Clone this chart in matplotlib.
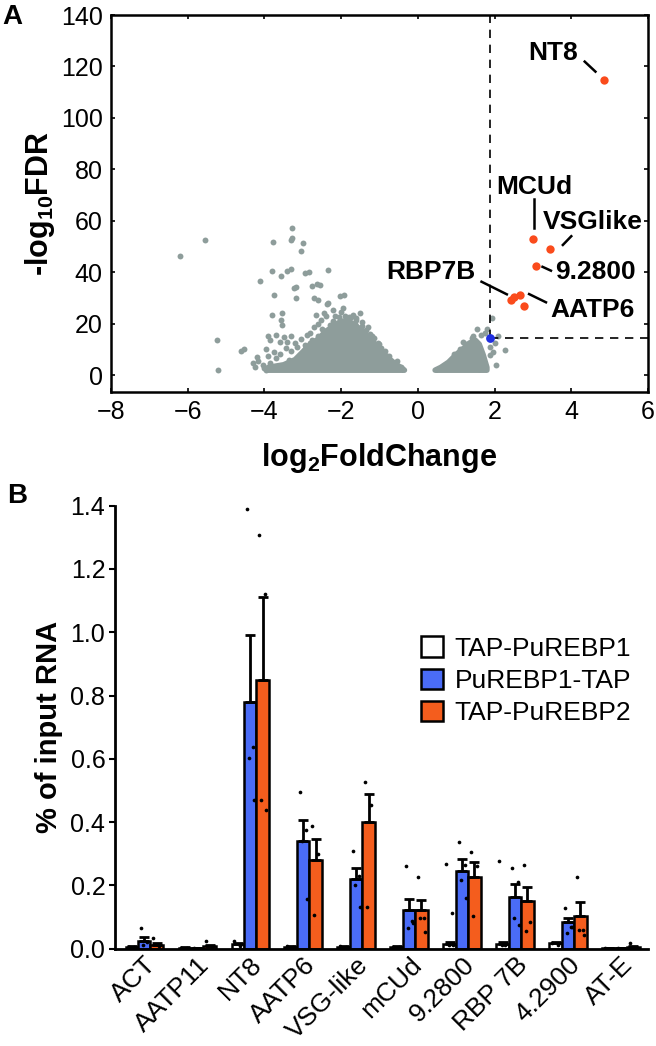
import numpy as np
import matplotlib.pyplot as plt
from matplotlib.patches import Patch

plt.rcParams['font.family'] = ['Liberation Sans', 'DejaVu Sans']
plt.rcParams['mathtext.fontset'] = 'custom'
plt.rcParams['mathtext.rm'] = 'Liberation Sans'
plt.rcParams['mathtext.bf'] = 'Liberation Sans:bold'

# ---- panel A: volcano ----
# dense cores of the two clouds (outline)
left_core_x = [-3.9, -3.9, -3.5, -3.2, -3.0, -2.8, -2.6, -2.4, -2.2, -2.0, -1.8, -1.6, -1.4,
               -1.2, -1.0, -0.8, -0.6, -0.4, -0.35]
left_core_y = [1.9, 3, 4, 6, 9, 12, 14, 17, 19, 21, 21, 19, 16.5, 13.5, 10, 7, 4.5, 2.5, 1.9]
right_core_x = [0.45, 0.6, 0.8, 1.0, 1.2, 1.35, 1.5, 1.6, 1.7, 1.8, 1.8]
right_core_y = [1.9, 3, 5, 8, 10.5, 12.5, 13.5, 12, 8, 3, 1.9]

# scattered grey genes outside the cores
grey_x = [-6.21, -5.55, -5.24, -5.20, -4.62, -4.52, -4.12, -4.20, -4.16, -4.05, -4.0, -3.95,
          -3.77, -3.80, -3.57, -3.41, -3.32, -3.74, -3.79, -3.53, -3.57, -3.53, -3.28, -3.31,
          -3.27, -3.0, -3.05, -2.93, -2.85, -3.17, -3.22, -3.17, -2.76, -2.62, -2.55, -2.70,
          -2.60, -2.35, -2.02, -1.92, -2.35, -2.37, -2.65, -2.45, -2.40, -2.52, -2.2, -2.0,
          -1.52, -3.9, -3.85, -3.7, -3.6, -3.5, -3.4, -3.3, -3.2, -3.05, -2.9, -3.95, -3.75,
          -3.6, -3.45, -3.3, -3.15, -2.95, -2.8, -2.7, -2.6, -4.3, -4.25, -3.85, -3.7, -3.55,
          -3.9, -2.15, -1.8, -1.7, -1.3, -1.15, -0.95, -0.8, -0.6, -0.45, -1.95, -1.6, -1.45,
          -2.9, -2.8, -2.6, -2.45, -2.3, -2.2, -2.05, -1.9, -1.75, -1.6, -1.45, -1.35, -1.2,
          -1.05, -0.85, -0.75, -0.55, -3.1, -2.95, -2.75, -2.5, -1.65, -1.25, -1.0, -3.35,
          1.94, 2.1, 2.27, 2.05, 1.55, 1.17, 1.88, 1.88, 1.75, 1.8, 1.65, 2.0, 1.95, 1.7, 1.6,
          1.3, 1.45, 1.1, 0.95, 1.4, 1.55, 1.25]
grey_y = [46.3, 52.5, 13.6, 1.9, 9.5, 10.2, 36.6, 7.2, 5.5, 3.8, 2.6, 2.0,
          51.6, 40.3, 38.7, 40.4, 41.2, 31.1, 23.3, 24.0, 21.4, 19.4, 57.2, 52.5,
          53.2, 51.3, 48.1, 39.8, 40.0, 34.3, 34.0, 29.8, 34.6, 35.3, 35.0, 30.0,
          29.0, 40.8, 30.9, 31.2, 28.2, 27.5, 23.5, 24.2, 23.0, 21.4, 25.2, 24.6,
          24.0, 15.0, 13.5, 15.5, 12.8, 14.8, 13.0, 15.2, 12.5, 14.0, 15.5, 10.0, 9.0,
          8.0, 10.5, 9.5, 11.0, 11.5, 16.5, 18.5, 20.0, 4.5, 3.0, 4.5, 6.5, 3.5,
          7.5, 23.0, 22.5, 23.5, 18.5, 14.5, 10.5, 7.5, 4.5, 3.0, 26.0, 22.0, 20.5,
          9.0, 12.5, 15.0, 17.0, 19.5, 21.0, 22.5, 23.0, 22.5, 21.5, 19.0, 17.5, 15.0,
          12.5, 9.5, 7.5, 5.5, 7.0, 10.0, 13.5, 18.0, 20.0, 16.0, 12.0, 6.0,
          22.0, 15.0, 9.7, 3.9, 18.0, 13.0, 7.8, 11.0, 16.5, 18.0, 15.5, 12.5, 9.0, 5.0, 2.5,
          11.0, 15.0, 10.0, 8.0, 14.5, 12.0, 12.0]

hit_x = [4.85, 3.01, 3.45, 3.09, 2.43, 2.51, 2.67, 2.76]
hit_y = [114.7, 52.9, 49.0, 42.5, 29.2, 30.5, 31.1, 26.8]
bait_x, bait_y = 1.88, 14.6

hit_labels = ['NT8', 'MCUd', 'VSGlike', '9.2800', 'RBP7B', 'AATP6']
label_x = [3.53, 3.04, 4.57, 4.63, 0.35, 4.55]
label_y = [125.4, 73.0, 59.6, 40.2, 40.2, 25.3]
leader_x0 = [4.35, 3.04, 4.00, 3.25, 1.66, 2.90]
leader_y0 = [121.9, 68.4, 54.0, 42.1, 36.3, 31.5]
leader_x1 = [4.63, 3.04, 3.78, 3.47, 2.32, 3.34]
leader_y1 = [118.0, 57.0, 50.6, 40.6, 31.4, 28.3]

# ---- panel B: bars ----
genes = ['ACT', 'AATP11', 'NT8', 'AATP6', 'VSG-like', 'mCUd', '9.2800', 'RBP 7B', '4.2900', 'AT-E']
series = ['TAP-PuREBP1', 'PuREBP1-TAP', 'TAP-PuREBP2']
white_mean = [0.005, 0.003, 0.014, 0.006, 0.006, 0.005, 0.014, 0.014, 0.016, 0.002]
blue_mean = [0.025, 0.003, 0.78, 0.34, 0.22, 0.123, 0.244, 0.163, 0.083, 0.002]
orange_mean = [0.012, 0.008, 0.85, 0.281, 0.40, 0.121, 0.227, 0.151, 0.103, 0.006]
white_err = [0.003, 0.001, 0.005, 0.003, 0.003, 0.002, 0.006, 0.006, 0.004, 0.001]
blue_err = [0.01, 0.0, 0.21, 0.065, 0.035, 0.035, 0.04, 0.04, 0.015, 0.0]
orange_err = [0.004, 0.003, 0.26, 0.065, 0.09, 0.033, 0.045, 0.045, 0.043, 0.002]

white_dots = [[0.004, 0.006], [0.002, 0.003], [0.024, 0.008], [0.008, 0.004], [0.008, 0.004],
              [0.006, 0.004], [0.267, 0.112, 0.012, 0.01], [0.278, 0.012, 0.01], [0.016, 0.01], [0.002]]
blue_dots = [[0.065, 0.02, 0.01], [0.003], [1.39, 0.637, 0.603, 0.471], [0.494, 0.374, 0.34, 0.155],
             [0.308, 0.229, 0.2, 0.131], [0.26, 0.087, 0.065, 0.08], [0.337, 0.265, 0.218, 0.16],
             [0.255, 0.21, 0.097, 0.073], [0.129, 0.067, 0.05, 0.067], [0.002]]
orange_dots = [[0.034, 0.008], [0.025, 0.004], [1.309, 1.12, 0.471, 0.437], [0.387, 0.30, 0.107],
               [0.526, 0.453, 0.131], [0.225, 0.095, 0.095, 0.052], [0.306, 0.26, 0.102],
               [0.265, 0.083, 0.055], [0.225, 0.06, 0.06, 0.044], [0.016, 0.003]]

grey = '#8e9d9b'
red = '#fa4b1c'
bar_colors = ['white', '#4a6cf7', '#f45d1d']

fig = plt.figure(figsize=(6.56, 10.46), dpi=100)

# panel A
ax = fig.add_axes([0.1692, 0.6252, 0.8186, 0.3604])
ax.fill(left_core_x, left_core_y, color=grey, lw=4, joinstyle='round', zorder=1)
ax.fill(right_core_x, right_core_y, color=grey, lw=4, joinstyle='round', zorder=1)
ax.scatter(grey_x, grey_y, s=18, color=grey, lw=0, zorder=2)
ax.plot([bait_x, bait_x], [bait_y, 140], color='black', lw=1.2, linestyle=(0, (5, 4)), zorder=3)
ax.plot([bait_x, 6], [bait_y, bait_y], color='black', lw=1.2, linestyle=(0, (5, 4)), zorder=3)
ax.scatter(hit_x, hit_y, s=36, color=red, lw=0, zorder=4)
ax.scatter([bait_x], [bait_y], s=40, color='#1f2ee0', lw=0, zorder=4)
for i, lab in enumerate(hit_labels):
    ax.text(label_x[i], label_y[i], lab, fontsize=19, fontweight='bold', ha='center', va='center')
    ax.plot([leader_x0[i], leader_x1[i]], [leader_y0[i], leader_y1[i]], color='black', lw=1.8)
ax.set_xlim(-8, 6)
ax.set_ylim(-6.6, 140)
ax.set_xticks(np.arange(-8, 7, 2))
ax.set_yticks(np.arange(0, 141, 20))
ax.tick_params(direction='in', top=True, right=True, length=3, width=1.2, labelsize=18, pad=6)
for sp in ax.spines.values():
    sp.set_linewidth(1.8)
ax.set_xlabel(r'log$_{\mathbf{2}}$FoldChange', fontsize=22, fontweight='bold', labelpad=12)
ax.set_ylabel(r'-log$_{\mathbf{10}}$FDR', fontsize=22, fontweight='bold', labelpad=3)

# panel B
bx = fig.add_axes([0.1753, 0.0932, 0.8125, 0.4233])
pos = np.arange(len(genes))
w = 0.232
offsets = [-0.235, 0.0, 0.235]
means = [white_mean, blue_mean, orange_mean]
errs = [white_err, blue_err, orange_err]
dots = [white_dots, blue_dots, orange_dots]
jitter = [-0.06, 0.05, -0.02, 0.07]
for k in range(3):
    xs = pos + offsets[k]
    bx.bar(xs, means[k], width=w, color=bar_colors[k], edgecolor='black', lw=1.8, zorder=2,
           label=series[k])
    bx.errorbar(xs, means[k], yerr=[np.zeros(len(genes)), errs[k]], fmt='none', ecolor='black',
                elinewidth=2.0, capsize=3.5, capthick=2.0, zorder=3)
    for g in range(len(genes)):
        vals = dots[k][g]
        bx.scatter([xs[g] + jitter[j % 4] for j in range(len(vals))], vals, s=7, color='black',
                   lw=0, zorder=4)
bx.set_xlim(-0.55, 9.51)
bx.set_ylim(0, 1.4)
bx.set_yticks(np.arange(0, 1.41, 0.2))
bx.set_yticklabels(['%.1f' % v for v in np.arange(0, 1.41, 0.2)])
bx.set_xticks(pos)
bx.set_xticklabels(genes, rotation=45, ha='right', rotation_mode='anchor', fontsize=19)
bx.tick_params(axis='x', length=0, pad=3)
bx.tick_params(axis='y', direction='out', length=4, width=1.5, labelsize=18, pad=3)
for s in ['top', 'right']:
    bx.spines[s].set_visible(False)
for s in ['left', 'bottom']:
    bx.spines[s].set_linewidth(2.0)
bx.set_ylabel('% of input RNA', fontsize=21, fontweight='bold', labelpad=5)
handles = [Patch(facecolor=c, edgecolor='black', lw=1.8) for c in bar_colors]
bx.legend(handles, series, loc='upper left', bbox_to_anchor=(0.575, 0.705), frameon=False,
          fontsize=19, handlelength=0.8, handleheight=0.8, handletextpad=0.45,
          labelspacing=0.3, borderpad=0, borderaxespad=0)

fig.text(12 / 656, 1 - 17 / 1046, 'A', fontsize=20, fontweight='bold', ha='center', va='center')
fig.text(17 / 656, 1 - 496 / 1046, 'B', fontsize=20, fontweight='bold', ha='center', va='center')

fig.savefig('out.png', dpi=100)
